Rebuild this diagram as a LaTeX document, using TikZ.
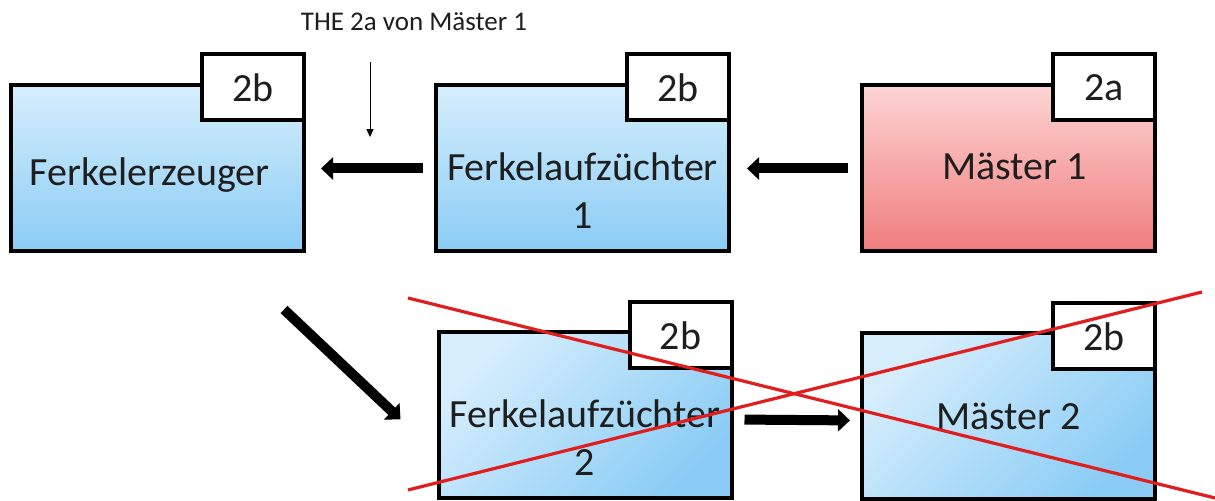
\documentclass[tikz,border=0pt]{standalone}
\usepackage{fontspec}
\setmainfont{Carlito}
\usetikzlibrary{arrows.meta}

\definecolor{lightblue}{RGB}{214,238,252}
\definecolor{darkblue}{RGB}{138,204,245}
\definecolor{lightred}{RGB}{253,212,212}
\definecolor{darkred}{RGB}{240,124,124}
\definecolor{crossred}{RGB}{225,30,30}
\definecolor{textgray}{RGB}{30,30,30}

\begin{document}
\begin{tikzpicture}[x=0.5pt, y=-0.5pt,
  stage/.style={draw, line width=2pt, minimum width=146.5pt, minimum height=83pt, inner sep=0pt},
  bluestage/.style={stage, top color=lightblue, bottom color=darkblue},
  bluediag/.style={stage, top color=lightblue, bottom color=darkblue, shading angle=45},
  redstage/.style={stage, top color=lightred, bottom color=darkred},
  statustag/.style={draw, fill=white, line width=2pt, minimum width=51pt, minimum height=33pt, inner sep=0pt, anchor=north east, font=\fontsize{20}{24}\selectfont, text=textgray},
  stagetext/.style={align=center, font=\fontsize{20}{24}\selectfont, text=textgray},
  note/.style={font=\fontsize{13.5}{16}\selectfont, text=textgray},
  flow/.style={-{Triangle[length=6pt,width=11pt]}, line width=5pt},
  strike/.style={crossred, line width=1.6pt},
]
  \useasboundingbox (0,0) rectangle (1215,501);

  \node[bluestage] (fe) at (157.5,168.5) {};
  \node[bluestage] (fz1) at (582.5,168.5) {};
  \node[redstage] (m1) at (1008.5,168.5) {};
  \node[bluediag] (fz2) at (585,415.5) {};
  \node[bluediag] (m2) at (1008.5,416.5) {};

  \node[statustag] (fet) at ([yshift=15.5pt]fe.north east) {2b};
  \node[statustag] (fz1t) at ([yshift=15.5pt]fz1.north east) {2b};
  \node[statustag] (m1t) at ([yshift=15.5pt]m1.north east) {2a};
  \node[statustag] (fz2t) at ([yshift=15pt]fz2.north east) {2b};
  \node[statustag] (m2t) at ([yshift=15pt]m2.north east) {2b};

  \node[stagetext] at ([xshift=-4pt,yshift=-3.5pt]fe.center) {Ferkelerzeuger};
  \node[stagetext] at ([yshift=-11pt]fz1.center) {Ferkelaufzüchter\\1};
  \node[stagetext] at ([xshift=3pt,yshift=1pt]m1.center) {Mäster 1};
  \node[stagetext] at ([yshift=-11pt]fz2.center) {Ferkelaufzüchter\\2};
  \node[stagetext] at (m2.center) {Mäster 2};

  \draw[flow, shorten <=5.5pt, shorten >=7.5pt] (fz1.west) -- (fe.east);
  \draw[flow, shorten <=6pt, shorten >=8pt] (m1.west) -- (fz1.east);
  \draw[flow] ([xshift=-11pt,yshift=-28pt]fe.south east) -- ([xshift=-18pt,yshift=-2pt]fz2.west);
  \draw[flow, shorten <=5.5pt, shorten >=5pt] ([yshift=-2pt]fz2.east) -- ([yshift=-2pt]m2.west);

  \node[note] (the) at (414,22) {THE 2a von Mäster 1};
  \draw[-{Triangle[length=4pt,width=3.5pt]}, line width=0.5pt] ([xshift=-22pt,yshift=-12pt]the.south) -- ++(0,75);

  \draw[strike] (408,298) -- (1215,498);
  \draw[strike] (408,490) -- (1202,292);
\end{tikzpicture}
\end{document}
